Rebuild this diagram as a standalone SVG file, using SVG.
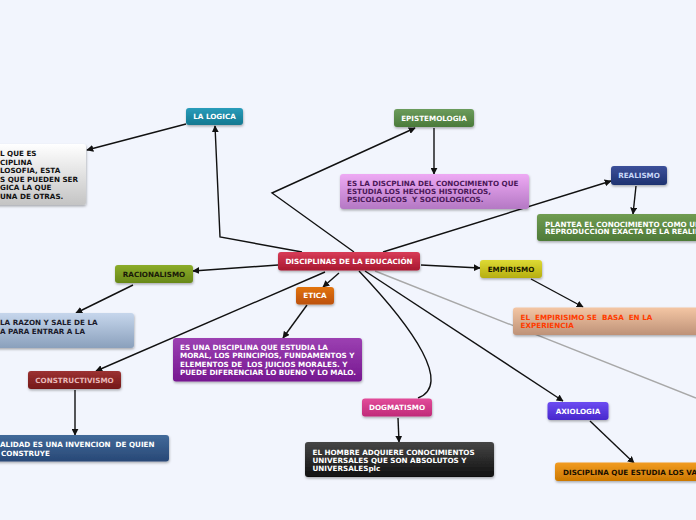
<svg xmlns="http://www.w3.org/2000/svg" width="696" height="520" viewBox="0 0 696 520">
<defs>
<style>
text{font-family:"DejaVu Sans","Verdana",sans-serif;font-weight:bold;font-size:7.2px;white-space:pre}
.c{text-anchor:middle}
.ln{fill:none;stroke:#111;stroke-width:1.4}
.gl{fill:none;stroke:#a8a8a8;stroke-width:1.4}
.w{fill:#fff}
.k{fill:#111}
</style>
<filter id="sh" x="-10%" y="-20%" width="120%" height="150%"><feDropShadow dx="0.5" dy="1.5" stdDeviation="1" flood-color="#000" flood-opacity="0.3"/></filter>
<marker id="ar" viewBox="0 0 10 10" refX="9" refY="5" markerWidth="7" markerHeight="7" markerUnits="userSpaceOnUse" orient="auto"><path d="M0,0 L10,5 L0,10 z" fill="#111"/></marker>
<linearGradient id="g0" x1="0" y1="0" x2="0" y2="1"><stop offset="0" stop-color="#d83c58"/><stop offset="1" stop-color="#a8182f"/></linearGradient>
<linearGradient id="g1" x1="0" y1="0" x2="0" y2="1"><stop offset="0" stop-color="#2a9cba"/><stop offset="1" stop-color="#137890"/></linearGradient>
<linearGradient id="g2" x1="0" y1="0" x2="0" y2="1"><stop offset="0" stop-color="#6c9c5c"/><stop offset="1" stop-color="#4a7a3a"/></linearGradient>
<linearGradient id="g3" x1="0" y1="0" x2="0" y2="1"><stop offset="0" stop-color="#eeaaf4"/><stop offset="1" stop-color="#b478c4"/></linearGradient>
<linearGradient id="g4" x1="0" y1="0" x2="0" y2="1"><stop offset="0" stop-color="#3c509a"/><stop offset="1" stop-color="#1e3270"/></linearGradient>
<linearGradient id="g5" x1="0" y1="0" x2="0" y2="1"><stop offset="0" stop-color="#709c52"/><stop offset="1" stop-color="#4e7a38"/></linearGradient>
<linearGradient id="g6" x1="0" y1="0" x2="0" y2="1"><stop offset="0" stop-color="#8cac2a"/><stop offset="1" stop-color="#688818"/></linearGradient>
<linearGradient id="g7" x1="0" y1="0" x2="0" y2="1"><stop offset="0" stop-color="#c6d6ec"/><stop offset="1" stop-color="#8aa0bc"/></linearGradient>
<linearGradient id="g8" x1="0" y1="0" x2="0" y2="1"><stop offset="0" stop-color="#e2740f"/><stop offset="1" stop-color="#bc5008"/></linearGradient>
<linearGradient id="g9" x1="0" y1="0" x2="0" y2="1"><stop offset="0" stop-color="#9c40b2"/><stop offset="1" stop-color="#761890"/></linearGradient>
<linearGradient id="g10" x1="0" y1="0" x2="0" y2="1"><stop offset="0" stop-color="#9c3232"/><stop offset="1" stop-color="#741818"/></linearGradient>
<linearGradient id="g11" x1="0" y1="0" x2="0" y2="1"><stop offset="0" stop-color="#426a9a"/><stop offset="1" stop-color="#284876"/></linearGradient>
<linearGradient id="g12" x1="0" y1="0" x2="0" y2="1"><stop offset="0" stop-color="#e24c9a"/><stop offset="1" stop-color="#c02a78"/></linearGradient>
<linearGradient id="g13" x1="0" y1="0" x2="0" y2="1"><stop offset="0" stop-color="#464646"/><stop offset="1" stop-color="#101010"/></linearGradient>
<linearGradient id="g14" x1="0" y1="0" x2="0" y2="1"><stop offset="0" stop-color="#6c4cf2"/><stop offset="1" stop-color="#4828cc"/></linearGradient>
<linearGradient id="g15" x1="0" y1="0" x2="0" y2="1"><stop offset="0" stop-color="#f29c22"/><stop offset="1" stop-color="#cc7800"/></linearGradient>
<linearGradient id="g16" x1="0" y1="0" x2="0" y2="1"><stop offset="0" stop-color="#deda34"/><stop offset="1" stop-color="#b6ae10"/></linearGradient>
<linearGradient id="g17" x1="0" y1="0" x2="0" y2="1"><stop offset="0" stop-color="#f4c6a4"/><stop offset="1" stop-color="#be9278"/></linearGradient>
<linearGradient id="g18" x1="0" y1="0" x2="0" y2="1"><stop offset="0" stop-color="#ffffff"/><stop offset="1" stop-color="#c4c4c4"/></linearGradient>
</defs>
<rect width="696" height="520" fill="#f2f5fd"/>
<g id="connectors">
<path class="gl" d="M375,271 L696,398"/>
<path class="ln" d="M302,252 L220,237 L215,126" marker-end="url(#ar)"/>
<path class="ln" d="M186,124 L87,150" marker-end="url(#ar)"/>
<path class="ln" d="M354,252 L272,193 L415,128" marker-end="url(#ar)"/>
<path class="ln" d="M434,128 L434,174" marker-end="url(#ar)"/>
<path class="ln" d="M383,252 L611,181" marker-end="url(#ar)"/>
<path class="ln" d="M636,186 L633,214" marker-end="url(#ar)"/>
<path class="ln" d="M278,265 L193,271" marker-end="url(#ar)"/>
<path class="ln" d="M133,285 L76,313" marker-end="url(#ar)"/>
<path class="ln" d="M339,273 L323,287" marker-end="url(#ar)"/>
<path class="ln" d="M307,305 L283,338" marker-end="url(#ar)"/>
<path class="ln" d="M325,272 L96,371" marker-end="url(#ar)"/>
<path class="ln" d="M75,390 L75,435" marker-end="url(#ar)"/>
<path class="ln" d="M359,271 C415,330 452,385 418,398"/>
<path class="ln" d="M398,418 L399,442" marker-end="url(#ar)"/>
<path class="ln" d="M365,271 L563,401" marker-end="url(#ar)"/>
<path class="ln" d="M590,421 L634,463" marker-end="url(#ar)"/>
<path class="ln" d="M421,265 L480,268" marker-end="url(#ar)"/>
<path class="ln" d="M531,279 L583,307" marker-end="url(#ar)"/>
</g>
<g id="n-logica-desc"><rect x="-10" y="144" width="96" height="61" rx="3" fill="url(#g18)" filter="url(#sh)"/>
<text class="k" x="0" y="156">L QUE ES</text><text class="k" x="0" y="164.5">CIPLINA</text><text class="k" x="0" y="173">LOSOFIA, ESTA</text><text class="k" x="0" y="181.5">S QUE PUEDEN SER</text><text class="k" x="0" y="190">GICA LA QUE</text><text class="k" x="0" y="198.5">UNA DE OTRAS.</text></g>
<g id="n-logica"><rect x="186" y="108" width="57" height="17" rx="3" fill="url(#g1)" filter="url(#sh)"/><text class="c w" x="214.5" y="119">LA LOGICA</text></g>
<g id="n-epistemologia"><rect x="394" y="109" width="80" height="18" rx="3" fill="url(#g2)" filter="url(#sh)"/><text class="c w" x="434" y="120.5">EPISTEMOLOGIA</text></g>
<g id="n-epist-desc"><rect x="340" y="174" width="189" height="35" rx="3" fill="url(#g3)" filter="url(#sh)"/>
<text x="347" y="185.5" fill="#4a1858">ES LA DISCPLINA DEL CONOCIMIENTO QUE</text><text x="347" y="193.8" fill="#4a1858">ESTUDIA LOS HECHOS HISTORICOS,</text><text x="347" y="202.3" fill="#4a1858">PSICOLOGICOS  Y SOCIOLOGICOS.</text></g>
<g id="n-realismo"><rect x="611" y="166" width="56" height="19" rx="3" fill="url(#g4)" filter="url(#sh)"/><text class="c" x="639" y="178" fill="#c8d8f8">REALISMO</text></g>
<g id="n-realismo-desc"><rect x="537" y="214" width="170" height="27" rx="3" fill="url(#g5)" filter="url(#sh)"/>
<text class="w" x="545" y="226.5">PLANTEA EL CONOCIMIENTO COMO UN</text><text class="w" x="545" y="234">REPRODUCCION EXACTA DE LA REALID</text></g>
<g id="n-central"><rect x="278" y="252" width="142" height="18.5" rx="3" fill="url(#g0)" filter="url(#sh)"/><text class="c w" x="349" y="264">DISCIPLINAS DE LA EDUCACIÓN</text></g>
<g id="n-racionalismo"><rect x="115" y="265" width="78" height="18" rx="3" fill="url(#g6)" filter="url(#sh)"/><text class="c" x="154" y="276.5" fill="#1a1a08">RACIONALISMO</text></g>
<g id="n-racional-desc"><rect x="-10" y="313" width="144" height="35" rx="3" fill="url(#g7)" filter="url(#sh)"/>
<text x="0" y="325.2" fill="#1a1a2a">LA RAZON Y SALE DE LA</text><text x="0" y="333.8" fill="#1a1a2a">A PARA ENTRAR A LA</text></g>
<g id="n-empirismo"><rect x="480" y="260" width="62" height="18" rx="3" fill="url(#g16)" filter="url(#sh)"/><text class="c" x="511" y="271.5" fill="#1a1a00">EMPIRISMO</text></g>
<g id="n-empir-desc"><rect x="513" y="307.5" width="190" height="27.5" rx="3" fill="url(#g17)" filter="url(#sh)"/>
<text x="520.5" y="319.8" fill="#ff3c00">EL  EMPIRISIMO SE  BASA  EN LA</text><text x="520.5" y="328.2" fill="#ff3c00">EXPERIENCIA</text></g>
<g id="n-etica"><rect x="296" y="287" width="38" height="17.5" rx="3" fill="url(#g8)" filter="url(#sh)"/><text class="c w" x="315" y="298.3">ETICA</text></g>
<g id="n-etica-desc"><rect x="173" y="338" width="189" height="43.5" rx="3" fill="url(#g9)" filter="url(#sh)"/>
<text class="w" x="180" y="349.8">ES UNA DISCIPLINA QUE ESTUDIA LA</text><text class="w" x="180" y="358.2">MORAL, LOS PRINCIPIOS, FUNDAMENTOS Y</text><text class="w" x="180" y="366.5">ELEMENTOS DE  LOS JUICIOS MORALES. Y</text><text class="w" x="180" y="375.2">PUEDE DIFERENCIAR LO BUENO Y LO MALO.</text></g>
<g id="n-constructivismo"><rect x="28" y="371" width="93" height="18" rx="3" fill="url(#g10)" filter="url(#sh)"/><text class="c" x="74.5" y="382.5" fill="#e8b8b8">CONSTRUCTIVISMO</text></g>
<g id="n-construct-desc"><rect x="-10" y="435" width="179" height="26.5" rx="3" fill="url(#g11)" filter="url(#sh)"/>
<text class="w" x="0" y="446.8">ALIDAD ES UNA INVENCION  DE QUIEN</text><text class="w" x="1" y="456.2">CONSTRUYE</text></g>
<g id="n-dogmatismo"><rect x="362" y="398.5" width="70" height="18" rx="3" fill="url(#g12)" filter="url(#sh)"/><text class="c w" x="397" y="410">DOGMATISMO</text></g>
<g id="n-dogma-desc"><rect x="305" y="442" width="189" height="35" rx="3" fill="url(#g13)" filter="url(#sh)"/>
<text class="w" x="312.5" y="454.5">EL HOMBRE ADQUIERE CONOCIMIENTOS</text><text class="w" x="312.5" y="462.5">UNIVERSALES QUE SON ABSOLUTOS Y</text><text class="w" x="312.5" y="471.2">UNIVERSALESplc</text></g>
<g id="n-axiologia"><rect x="547.5" y="402" width="61" height="18" rx="3" fill="url(#g14)" filter="url(#sh)"/><text class="c w" x="578" y="413.5">AXIOLOGIA</text></g>
<g id="n-axio-desc"><rect x="555" y="462.5" width="160" height="18.5" rx="3" fill="url(#g15)" filter="url(#sh)"/>
<text x="563" y="474.5" fill="#1a1000">DISCIPLINA QUE ESTUDIA LOS VA</text></g>
</svg>
